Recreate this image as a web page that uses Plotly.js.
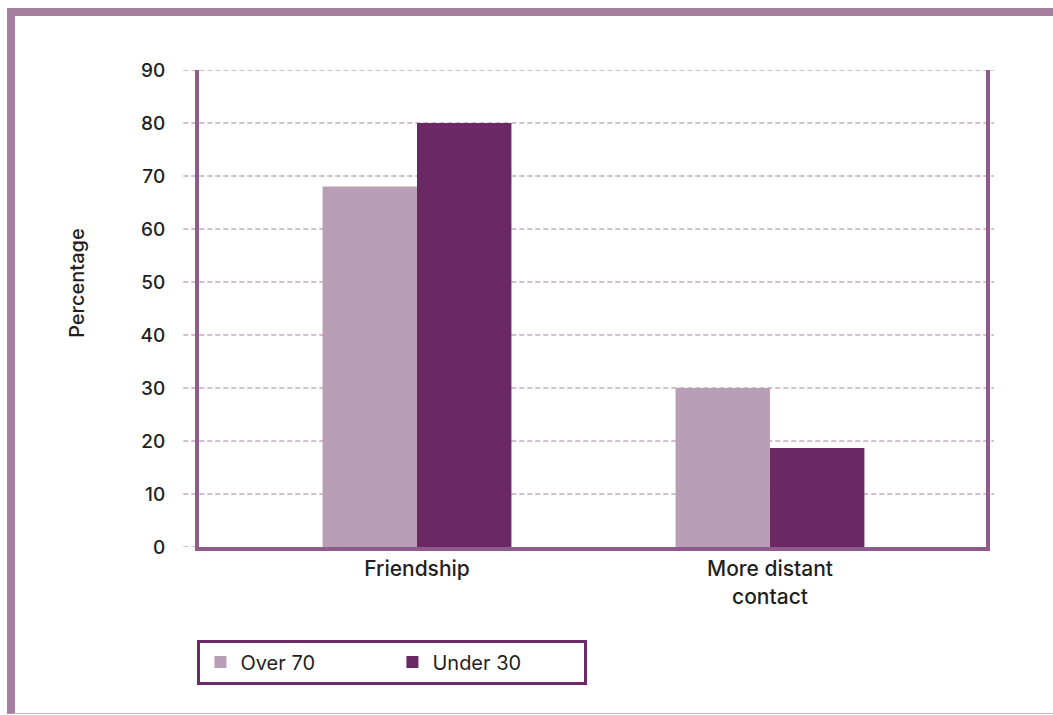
<!DOCTYPE html>
<html>
<head>
<meta charset="utf-8">
<script src="https://cdn.plot.ly/plotly-3.0.1.min.js"></script>
<style>
html,body{margin:0;padding:0;background:#fff;}
#wrap{position:relative;width:1053px;height:715px;overflow:hidden;}
#chart{position:absolute;left:0;top:0;width:1053px;height:715px;}
#frame{position:absolute;left:7px;top:8px;width:1060px;height:697px;border-top:8px solid #a67fa0;border-left:8px solid #a67fa0;border-bottom:1px solid #cdb6ca;pointer-events:none;}
</style>
</head>
<body>
<div id="wrap">
<div id="chart"></div>
<div id="frame"></div>
</div>
<script>
const categories = ["Friendship", "More distant<br>contact"];
const seriesNames = ["Over 70", "Under 30"];
const over70 = [68, 30];
const under30 = [80, 18.7];
const yTicks = [0, 10, 20, 30, 40, 50, 60, 70, 80, 90];
const yTitle = "Percentage";

const colors = ["#b89fb5", "#6a2865"];
const font = "Inter, Liberation Sans, Arial, sans-serif";

const traces = [
  {type: "bar", name: seriesNames[0], x: categories, y: over70, marker: {color: colors[0]}, hoverinfo: "skip"},
  {type: "bar", name: seriesNames[1], x: categories, y: under30, marker: {color: colors[1]}, hoverinfo: "skip"}
];

const gridLine = {color: "#c9a7c5", width: 1.5, dash: "5px,3px"};
const shapes = yTicks.filter(v => v > 0).map(v => ({
  type: "line", xref: "paper", yref: "y", x0: -0.02, x1: 1.01, y0: v, y1: v,
  line: gridLine, layer: "below"
}));
shapes.push({type: "line", xref: "paper", yref: "y", x0: -0.02, x1: 0, y0: 0, y1: 0,
  line: gridLine, layer: "below"});

const layout = {
  width: 1053, height: 715,
  margin: {l: 199, r: 67, t: 70, b: 168},
  paper_bgcolor: "rgba(0,0,0,0)", plot_bgcolor: "rgba(0,0,0,0)",
  barmode: "group", bargap: 0.465, bargroupgap: 0,
  font: {family: font, size: 19, color: "#231f20", weight: 500},
  xaxis: {
    range: [-0.6176, 1.612], showgrid: false, zeroline: false,
    showline: true, linecolor: "#8f5a8c", linewidth: 4,
    ticks: "", tickfont: {size: 21, weight: 500}, fixedrange: true
  },
  yaxis: {
    range: [0, 90], tickvals: yTicks, showgrid: false, zeroline: false,
    showline: true, mirror: true, linecolor: "#8f5a8c", linewidth: 4,
    ticks: "", ticklabelstandoff: 26, tickfont: {size: 19, weight: 500},
    fixedrange: true
  },
  shapes: shapes,
  annotations: [{
    text: yTitle, xref: "paper", yref: "paper", x: -0.172, y: 0.553,
    textangle: -90, showarrow: false, font: {size: 20, weight: 500}
  }],
  showlegend: true,
  legend: {
    orientation: "h", x: -0.002, xanchor: "left", y: -0.194, yanchor: "top",
    bordercolor: "#6c2a68", borderwidth: 3, bgcolor: "#fff",
    font: {size: 20, color: "#231f20", weight: 400}, entrywidth: 147, entrywidthmode: "pixels",
    traceorder: "normal"
  }
};

Plotly.newPlot("chart", traces, layout, {staticPlot: true});
</script>
</body>
</html>
